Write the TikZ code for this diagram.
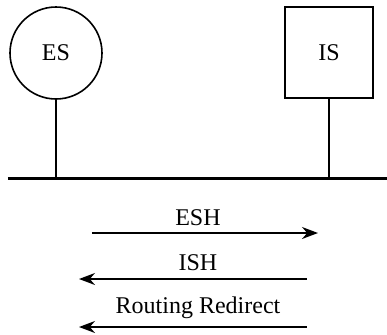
\documentclass[tikz,border=0pt]{standalone}
\usepackage{fontspec}
\setmainfont{Liberation Serif}
\usetikzlibrary{arrows.meta}

\begin{document}
\begin{tikzpicture}[x=0.5pt,y=-0.5pt,line width=0.8pt,>={Stealth[length=8pt,width=6pt]},
  font=\fontsize{12}{14}\selectfont,
  station/.style={draw,line width=0.8pt,inner sep=0pt}]
  \useasboundingbox (0,0) rectangle (387,334);
  % estaciones
  \node[station,circle,minimum size=46pt] (es) at (56,53) {ES};
  \node[station,rectangle,minimum width=44pt,minimum height=45.5pt] (is) at (329,52.5) {IS};
  % bus
  \coordinate (busL) at (8,178);
  \coordinate (busR) at (387,178);
  \draw[line width=1.5pt] (busL) -- (busR);
  \draw (es.south) -- (es.south |- busL);
  \draw (is.south) -- (is.south |- busL);
  % mensajes
  \coordinate (eshA) at (92,233); \coordinate (eshB) at (318,233);
  \coordinate (ishA) at (307,279); \coordinate (ishB) at (79,279);
  \coordinate (rrA) at (307,327); \coordinate (rrB) at (79,327);
  \draw[->] (eshA) -- (eshB); \node (esh) at (198,218) {ESH};
  \draw[->] (ishA) -- (ishB); \node (ish) at (198,263) {ISH};
  \draw[->] (rrA) -- (rrB); \node (rr) at (198,308) {Routing Redirect};
\end{tikzpicture}
\end{document}
